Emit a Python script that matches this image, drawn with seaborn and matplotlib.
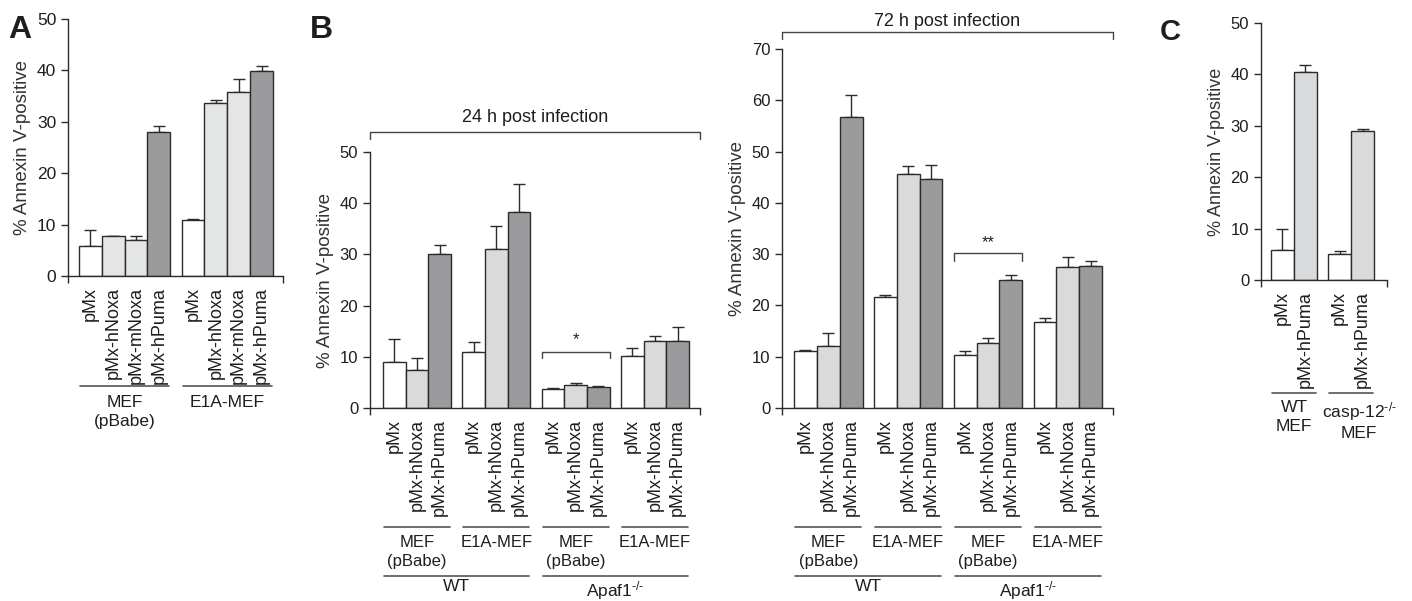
import numpy as np
import pandas as pd
import matplotlib
matplotlib.use("Agg")
import matplotlib.pyplot as plt
from matplotlib.transforms import blended_transform_factory
import seaborn as sns

# ── data ─────────────────────────────────────────────────────────────────────
A_groups     = ["MEF\n(pBabe)", "E1A-MEF"]
A_constructs = ["pMx", "pMx-hNoxa", "pMx-mNoxa", "pMx-hPuma"]
A_mean       = [5.8, 7.7, 7.0, 28.0, 10.8, 33.6, 35.8, 39.9]
A_err        = [3.2, 0.15, 0.85, 1.2, 0.2, 0.6, 2.6, 0.9]

B_cells      = ["MEF\n(pBabe)", "E1A-MEF", "MEF\n(pBabe)", "E1A-MEF"]
B_genotypes  = ["WT", r"Apaf1$^{\text{-/-}}$"]
B_constructs = ["pMx", "pMx-hNoxa", "pMx-hPuma"]
B24_mean     = [9.0, 7.5, 30.1, 11.0, 31.0, 38.3, 3.8, 4.5, 4.1, 10.1, 13.0, 13.1]
B24_err      = [4.4, 2.3, 1.8, 1.8, 4.6, 5.4, 0.1, 0.3, 0.25, 1.7, 1.0, 2.7]
B72_mean     = [11.1, 12.1, 56.8, 21.6, 45.6, 44.7, 10.4, 12.6, 24.9, 16.8, 27.4, 27.6]
B72_err      = [0.3, 2.6, 4.2, 0.5, 1.5, 2.7, 0.7, 1.0, 1.0, 0.7, 2.0, 1.1]

C_groups     = ["WT\nMEF", "casp-12$^{\\text{-/-}}$\nMEF"]
C_constructs = ["pMx", "pMx-hPuma"]
C_mean       = [5.8, 40.5, 5.1, 29.0]
C_err        = [4.1, 1.4, 0.5, 0.3]

# ── style ────────────────────────────────────────────────────────────────────
W, H = 1412, 601
EDGE = "#2b2b2b"
TXT  = "#1e1e1e"
WHITE, LIGHT, DARK = "#ffffff", "#d9dadc", "#9b9b9d"

sns.set_theme(style="ticks")
plt.rcParams["font.family"] = ["Liberation Sans", "DejaVu Sans"]
plt.rcParams["mathtext.fontset"] = "custom"
plt.rcParams["mathtext.rm"] = "Liberation Sans"
plt.rcParams["mathtext.it"] = "Liberation Sans:italic"
plt.rcParams["text.color"] = TXT

fig = plt.figure(figsize=(W / 100, H / 100), dpi=100)


def make_frame(groups, constructs, mean, err):
    n = len(constructs)
    rows = []
    for g in range(len(groups)):
        for i, c in enumerate(constructs):
            k = g * n + i
            rows.append({"pos": g * (n + 0.5) + i, "group": g, "construct": c,
                         "value": mean[k], "err": err[k]})
    return pd.DataFrame(rows)


def fy(ypx):
    # figure pixel row -> figure fraction
    return 1 - ypx / H


def bar_panel(box, df, palette, ymax, xpad, ytick_fs, xtick_fs, ylab_fs):
    left, right, top, bottom = box
    ax = fig.add_axes([left / W, fy(bottom), (right - left) / W, (bottom - top) / H])
    sns.barplot(data=df, x="pos", y="value", hue="construct", palette=palette,
                native_scale=True, dodge=False, width=1.0, edgecolor=EDGE,
                linewidth=1.0, errorbar=None, legend=False, ax=ax, zorder=2)
    ax.errorbar(df["pos"], df["value"], yerr=[np.zeros(len(df)), df["err"]],
                fmt="none", ecolor=EDGE, elinewidth=1.0, capsize=4.5,
                capthick=1.0, zorder=1)
    lo = df["pos"].min() - 0.5 - xpad[0]
    hi = df["pos"].max() + 0.5 + xpad[1]
    ax.set_xlim(lo, hi)
    ax.set_ylim(0, ymax)
    ax.set_yticks(np.arange(0, ymax + 1, 10))
    ax.set_xticks(df["pos"])
    ax.set_xticklabels(df["construct"], rotation=90, fontsize=xtick_fs, color=TXT)
    ax.set_xticks([lo, hi], minor=True)
    ax.tick_params(axis="x", which="major", length=0, pad=8)
    ax.tick_params(axis="x", which="minor", length=5, width=1.0, color=EDGE)
    ax.tick_params(axis="y", length=5, width=1.0, color=EDGE, labelsize=ytick_fs,
                   labelcolor=TXT)
    ax.set_xlabel("")
    ax.set_ylabel("% Annexin V-positive", fontsize=ylab_fs, color="#333333")
    sns.despine(ax=ax)
    for s in ("left", "bottom"):
        ax.spines[s].set_color(EDGE)
        ax.spines[s].set_linewidth(1.0)
    return ax


def group_labels(ax, df, labels, line_y, text_y, fs, groups_of=1, shift=None):
    tr = blended_transform_factory(ax.transData, fig.transFigure)
    n = df["group"].max() + 1
    for k in range(0, n, groups_of):
        sub = df[(df["group"] >= k) & (df["group"] < k + groups_of)]
        x0, x1 = sub["pos"].min() - 0.45, sub["pos"].max() + 0.45
        ax.plot([x0, x1], [fy(line_y), fy(line_y)], color="#555555", lw=1.2,
                transform=tr, clip_on=False)
        dx = shift[k // groups_of] if shift else 0
        ax.text((x0 + x1) / 2 + dx, fy(text_y), labels[k // groups_of], transform=tr,
                ha="center", va="top", fontsize=fs, linespacing=1.3)


def bracket(ax, x0, x1, y_line, y_text, text, fs, drop):
    # a horizontal bracket in data coords with short downward ends
    ax.plot([x0, x0, x1, x1], [y_line - drop, y_line, y_line, y_line - drop],
            color="#444444", lw=1.0, clip_on=False)
    ax.text((x0 + x1) / 2, y_text, text, ha="center", va="center", fontsize=fs)


def title_bracket(ax, y_line, y_text, text, fs):
    tr = blended_transform_factory(ax.transAxes, fig.transFigure)
    ax.plot([0, 0, 1, 1], [fy(y_line + 7), fy(y_line), fy(y_line), fy(y_line + 7)],
            color="#444444", lw=1.0, transform=tr, clip_on=False)
    ax.text(0.5, fy(y_text), text, transform=tr, ha="center", va="center",
            fontsize=fs)


# ── A ────────────────────────────────────────────────────────────────────────
dfA = make_frame(A_groups, A_constructs, A_mean, A_err)
palA = {"pMx": WHITE, "pMx-hNoxa": "#e4e5e5", "pMx-mNoxa": "#e4e5e5", "pMx-hPuma": DARK}
axA = bar_panel((68, 283, 19, 276), dfA, palA, 50, (0.48, 0.44), 12.5, 13, 13.5)
group_labels(axA, dfA, A_groups, 386, 395, 12.5)
fig.text(8 / W, fy(30), "A", fontsize=23, fontweight="bold", va="center")

# ── B, 24 h ──────────────────────────────────────────────────────────────────
palB = {"pMx": WHITE, "pMx-hNoxa": LIGHT, "pMx-hPuma": DARK}
dfB24 = make_frame(B_cells, B_constructs, B24_mean, B24_err)
axB1 = bar_panel((370, 700, 152, 408), dfB24, palB, 50, (0.57, 0.48), 12, 13, 13.5)
group_labels(axB1, dfB24, B_cells, 527, 535, 12)
group_labels(axB1, dfB24, B_genotypes, 576, 579, 12.5, groups_of=2)
title_bracket(axB1, 132, 117, "24 h post infection", 13)
bracket(axB1, 6.5, 9.5, 11.0, 13.3, "*", 12, 1.3)
fig.text(310 / W, fy(30), "B", fontsize=23, fontweight="bold", va="center")

# ── B, 72 h ──────────────────────────────────────────────────────────────────
dfB72 = make_frame(B_cells, B_constructs, B72_mean, B72_err)
axB2 = bar_panel((782, 1113, 49, 408), dfB72, palB, 70, (0.53, 0.48), 12, 13, 13.5)
group_labels(axB2, dfB72, B_cells, 527, 535, 12)
group_labels(axB2, dfB72, B_genotypes, 576, 579, 12.5, groups_of=2)
title_bracket(axB2, 32, 21, "72 h post infection", 13)
bracket(axB2, 6.5, 9.5, 30.2, 32.3, "**", 12, 1.5)

# ── C ────────────────────────────────────────────────────────────────────────
dfC = make_frame(C_groups, C_constructs, C_mean, C_err)
palC = {"pMx": WHITE, "pMx-hPuma": LIGHT}
axC = bar_panel((1261, 1387, 23, 280), dfC, palC, 50, (0.44, 0.57), 12, 13, 13)
group_labels(axC, dfC, C_groups, 393, 400, 12.5, shift=[0, 0.35])
fig.text(1160 / W, fy(32), "C", fontsize=21, fontweight="bold", va="center")

fig.savefig("out.png", dpi=100)
